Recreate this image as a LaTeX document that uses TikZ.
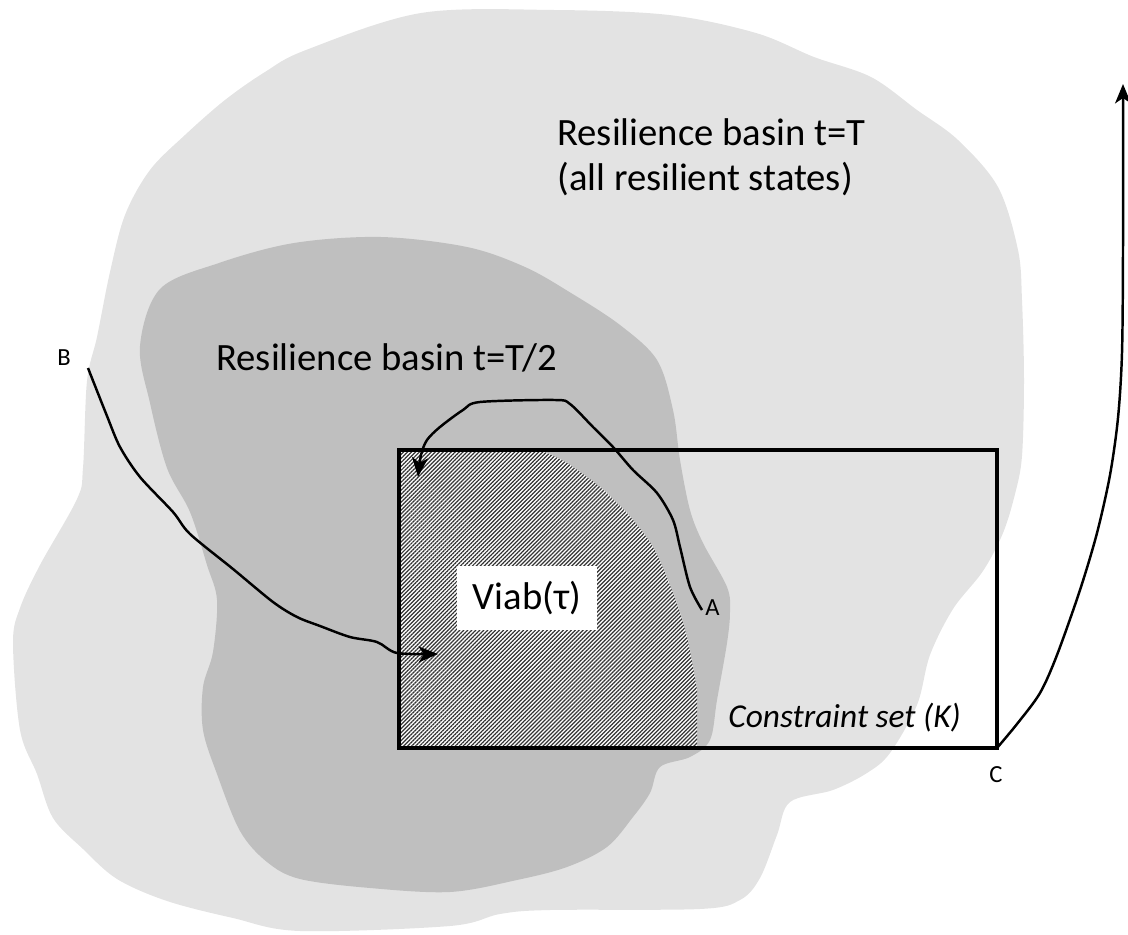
\documentclass[tikz,border=0pt]{standalone}
\usepackage{fontspec}
\setmainfont{Carlito}
\usetikzlibrary{arrows.meta,patterns.meta,positioning}
\tikzset{>={Stealth[length=11pt,width=9pt,inset=3pt]}}
\definecolor{basinT}{gray}{0.89}
\definecolor{basinhalf}{gray}{0.75}
\tikzset{traj/.style={->, line width=1.4pt}}
\tikzset{lbl/.style={font=\fontsize{14}{16}\selectfont, inner sep=0pt}}
\tikzset{big/.style={font=\fontsize{22}{26}\selectfont, inner sep=0pt}}

\begin{document}
\begin{tikzpicture}[x=0.2mm,y=-0.2mm]
      \useasboundingbox (0,0) rectangle (1128,935);
      \fill[basinT] plot[smooth cycle, tension=0.55] coordinates {
        (110,272) (125,215) (150,170) (185,135) (225,100) (265,72) (306,50)
        (421,13) (554,10) (669,15) (756,33) (814,57) (871,77) (917,110)
        (958,140) (998,187) (1018,250) (1022,300) (1024,380) (1022,456)
        (1015,494) (1003,533) (983,571) (953,609) (930,655) (917,705)
        (890,753) (867,773) (833,790) (790,802) (777,835) (760,878)
        (740,900) (700,909) (550,910) (500,914) (450,926) (300,931)
        (233,918) (167,901) (117,879) (83,849) (53,818) (37,774) (20,730)
        (13,643) (20,608) (40,565) (77,499) (83,468) (87,381) (97,337)};
      \fill[basinhalf] plot[smooth cycle, tension=0.55] coordinates {
        (160,289) (219,263) (294,243) (381,237) (467,247) (525,267)
        (571,293) (620,325) (657,360) (673,410) (680,460) (690,510)
        (703,543) (727,587) (730,612) (727,643) (717,700) (710,740)
        (690,757) (660,767) (650,793) (633,817) (607,847) (567,867)
        (517,880) (450,892) (370,888) (300,879) (267,862) (240,831)
        (217,774) (203,730) (203,687) (213,652) (217,600) (207,565)
        (190,512) (167,468) (150,403) (140,346)};
      \coordinate (k1) at (399,450);
      \coordinate (k2) at (997,748);
      \fill[white, postaction={pattern={Lines[angle=45,distance=1.6pt,line width=0.7pt]}, pattern color=black!80}]
        (k1) -- plot[smooth] coordinates {(540,450) (567,463) (600,487) (627,513)
        (653,547) (673,593) (687,637) (697,690)} -- (697,748) -- (399,748) -- cycle;
      \draw[line width=2.2pt] (k1) rectangle (k2);
      \node[big, fill=white, inner xsep=9pt, minimum height=36pt] (viab) at (527,598) {Viab(τ)};
      \node[big, anchor=north west, align=left] (outer) at (557,118)
        {Resilience basin t=T\\(all resilient states)};
      \node[big, anchor=base west] (inner) at (216,370) {Resilience basin t=T/2};
      \node[lbl, font=\fontsize{19}{22}\selectfont\itshape, anchor=base west] (kset) at (728,727) {Constraint set (K)};
      \node[lbl, anchor=base west] (A) at (705,615) {A};
      \node[lbl, anchor=base west] (B) at (57,365) {B};
      \node[lbl, anchor=base] (C) at (996,782) {C};
      \coordinate (a0) at (702,610);
      \coordinate (b0) at (88,368);
      \coordinate (top) at (1123,84);
      \draw[traj] plot[smooth, tension=0.5] coordinates {(b0) (107,416) (120,447)
        (140,477) (173,512) (190,534) (233,569) (273,602) (297,617) (320,626)
        (350,637) (377,642) (397,653) (438,654)};
      \draw[traj] plot[smooth, tension=0.5] coordinates {(a0) (690,587) (680,547)
        (673,520) (657,493) (633,470) (613,447) (593,427) (570,404) (555,400)
        (480,402) (463,410) (440,427) (427,440) (421,455) (418,477)};
      \draw[traj] plot[smooth, tension=0.5] coordinates {(k2) (1017,724) (1040,693)
        (1057,655) (1080,590) (1097,533) (1110,475) (1118,418) (1122,353)
        (1123,250) (top)};
\end{tikzpicture}
\end{document}
